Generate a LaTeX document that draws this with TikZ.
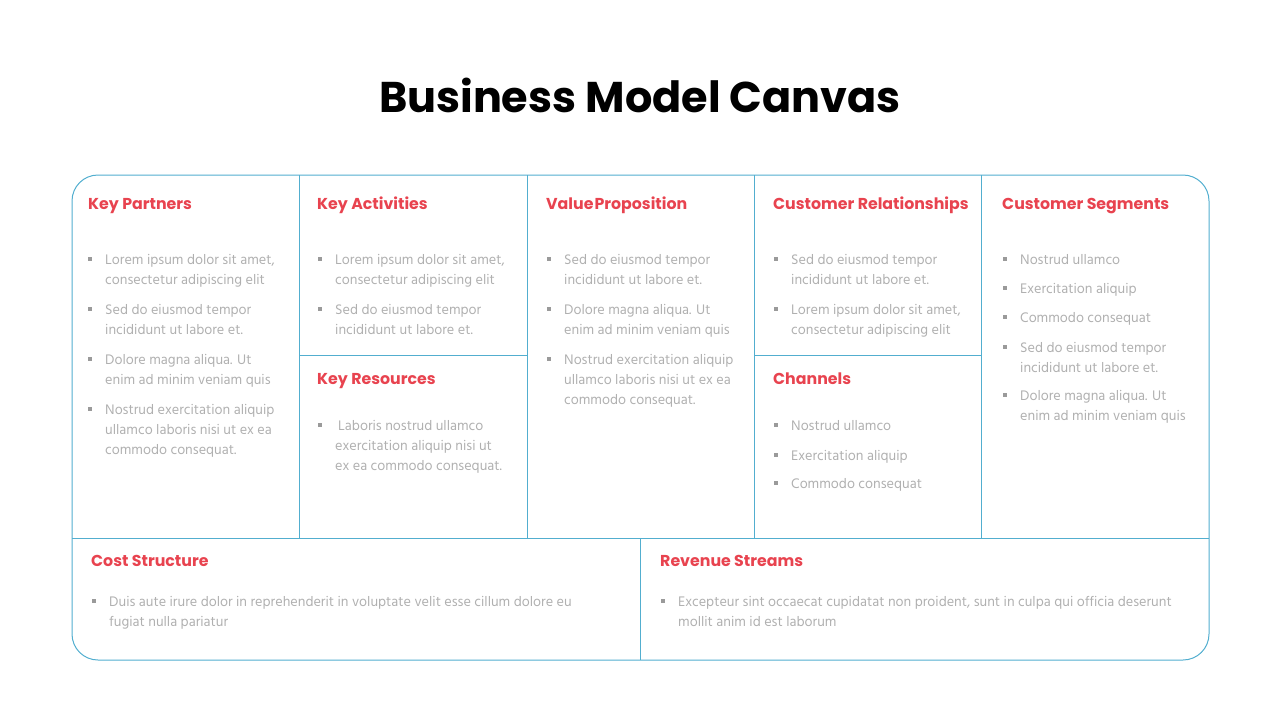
\documentclass[tikz,border=0pt]{standalone}
\usepackage{fontspec}
\setmainfont{Hind Madurai}
\newfontfamily\popfont{Poppins}
\definecolor{framec}{HTML}{52AECF}
\definecolor{headc}{HTML}{E8434F}
\definecolor{bodyc}{HTML}{B0B0B0}
\definecolor{bulc}{HTML}{9A9A9A}
\tikzset{
  frame/.style={draw=framec, line width=1pt},
  head/.style={anchor=base west, inner sep=0pt, text=headc, font=\popfont\bfseries\fontsize{15.8}{18}\selectfont},
  txt/.style={anchor=north west, inner sep=0pt, align=left, text=bodyc, font=\fontsize{14.2}{20}\selectfont, execute at begin node=\strut},
  sq/.style={fill=bulc, inner sep=0pt, minimum size=3.6pt},
  ttl/.style={inner sep=0pt, font=\popfont\bfseries\fontsize{43}{48}\selectfont}
}
\newcommand\bitem[4]{%
  \node[sq] (#4b) at (#1-15,#2) {};
  \node[txt] (#4) at (#1,#2-9) {#3};}
\newcommand\mitem[4]{%
  \node[sq] (#4b) at (#1-15,#2) {};
  \node[txt] (#4) at (#1,#2-5) {#3};}
\begin{document}
\begin{tikzpicture}[x=1pt,y=-1pt]
\useasboundingbox (0,0) rectangle (1280,720);
\node[ttl] (title) at (640,95) {Business Model Canvas};
% frame
\draw[frame, rounded corners=26pt] (72,175) rectangle (1209,660);
\draw[frame] (299,175) -- (299,538);
\draw[frame] (527,175) -- (527,538);
\draw[frame] (754,175) -- (754,538);
\draw[frame] (981,175) -- (981,538);
\draw[frame] (72,538) -- (1209,538);
\draw[frame] (299,355) -- (527,355);
\draw[frame] (754,355) -- (981,355);
\draw[frame] (640,538) -- (640,660);
% headings
\node[head] (hkp) at (88,209) {Key Partners};
\node[head] (hka) at (317,209) {Key Activities};
\node[head] (hvp) at (546,209) {Value\hspace{1pt}Proposition};
\node[head] (hcr) at (773,209) {Customer Relationships};
\node[head] (hcs) at (1002,209) {Customer Segments};
\node[head] (hkr) at (317,384) {Key Resources};
\node[head] (hch) at (773,384) {Channels};
\node[head] (hco) at (91,566) {Cost Structure};
\node[head] (hre) at (660,566) {Revenue Streams};
% Key Partners
\mitem{105}{259}{Lorem ipsum dolor sit amet,\\consectetur adipiscing elit}{kp1}
\mitem{105}{309}{Sed do eiusmod tempor\\incididunt ut labore et.}{kp2}
\mitem{105}{359}{Dolore magna aliqua. Ut\\enim ad minim veniam quis}{kp3}
\mitem{105}{409}{Nostrud exercitation aliquip\\ullamco laboris nisi ut ex ea\\commodo consequat.}{kp4}
% Key Activities
\mitem{335}{259}{Lorem ipsum dolor sit amet,\\consectetur adipiscing elit}{ka1}
\mitem{335}{309}{Sed do eiusmod tempor\\incididunt ut labore et.}{ka2}
% Key Resources
\mitem{335}{425}{\hspace{3pt}Laboris nostrud ullamco\\exercitation aliquip nisi ut\\ex ea commodo consequat.}{kr1}
% Value Proposition
\mitem{564}{259}{Sed do eiusmod tempor\\incididunt ut labore et.}{vp1}
\mitem{564}{309}{Dolore magna aliqua. Ut\\enim ad minim veniam quis}{vp2}
\mitem{564}{359}{Nostrud exercitation aliquip\\ullamco laboris nisi ut ex ea\\commodo consequat.}{vp3}
% Customer Relationships
\mitem{791}{259}{Sed do eiusmod tempor\\incididunt ut labore et.}{cr1}
\mitem{791}{309}{Lorem ipsum dolor sit amet,\\consectetur adipiscing elit}{cr2}
% Channels
\bitem{791}{425}{Nostrud ullamco}{ch1}
\bitem{791}{455}{Exercitation aliquip}{ch2}
\bitem{791}{483}{Commodo consequat}{ch3}
% Customer Segments
\bitem{1020}{259}{Nostrud ullamco}{cs1}
\bitem{1020}{288}{Exercitation aliquip}{cs2}
\bitem{1020}{317}{Commodo consequat}{cs3}
\mitem{1020}{347}{Sed do eiusmod tempor\\incididunt ut labore et.}{cs4}
\mitem{1020}{395}{Dolore magna aliqua. Ut\\enim ad minim veniam quis}{cs5}
% Cost Structure
\mitem{109}{601}{Duis aute irure dolor in reprehenderit in voluptate velit esse cillum dolore eu\\fugiat nulla pariatur}{co1}
% Revenue Streams
\mitem{678}{601}{Excepteur sint occaecat cupidatat non proident, sunt in culpa qui officia deserunt\\mollit anim id est laborum}{re1}
\end{tikzpicture}
\end{document}
